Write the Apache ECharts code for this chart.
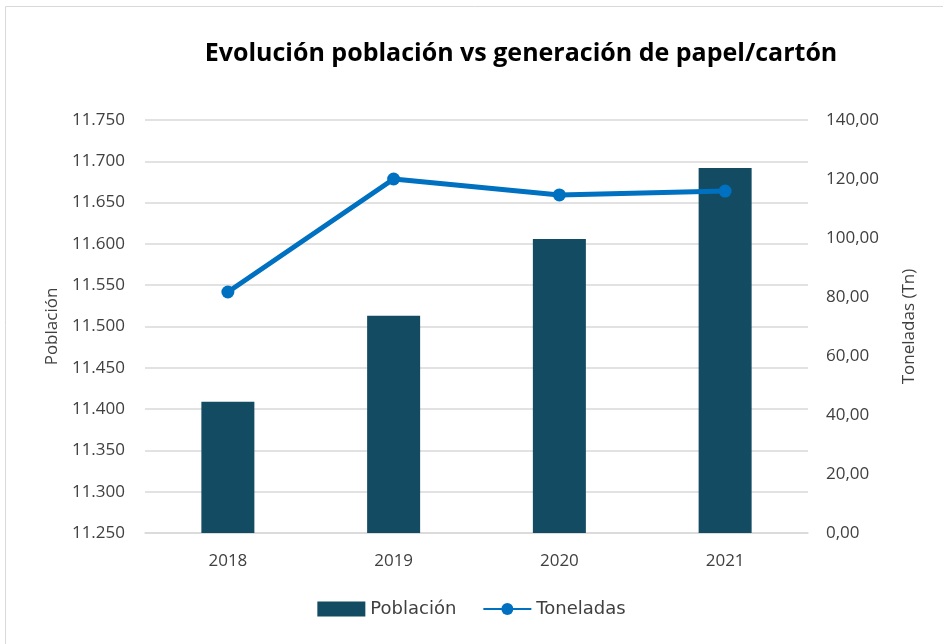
<!DOCTYPE html>
<html>
<head>
<meta charset="utf-8">
<script src="https://cdn.jsdelivr.net/npm/echarts@6/dist/echarts.min.js"></script>
<style>
html,body{margin:0;padding:0;background:#fff;}
#main{width:943px;height:644px;}
</style>
</head>
<body>
<div id="main"></div>
<script>
var years = ['2018', '2019', '2020', '2021'];
var poblacion = [11409, 11513, 11606, 11692];
var toneladas = [81.7, 120.0, 114.6, 115.9];

var fmtMiles = function (v) {
    return (v / 1000).toFixed(3);
};
var fmtTn = function (v) {
    return v.toFixed(2).replace('.', ',');
};

var option = {
    backgroundColor: '#fff',
    textStyle: { fontFamily: 'Open Sans' },
    title: {
        text: 'Evolución población vs generación de papel/cartón',
        left: 516,
        textAlign: 'center',
        top: 36,
        textStyle: { fontSize: 25, fontWeight: 'bold', color: '#000', fontFamily: 'Open Sans' }
    },
    graphic: [{
        type: 'rect',
        shape: { x: 5.5, y: 6.5, width: 960, height: 660 },
        style: { fill: 'none', stroke: '#d9d9d9', lineWidth: 1 },
        silent: true
    }],
    legend: {
        bottom: 21,
        left: 'center',
        itemGap: 26,
        itemWidth: 48,
        itemHeight: 15,
        textStyle: { fontSize: 18, color: '#404040', fontFamily: 'DejaVu Sans' },
        data: [
            { name: 'Población', icon: 'rect' },
            { name: 'Toneladas' }
        ]
    },
    grid: { left: 145, right: 135, top: 120, bottom: 111 },
    xAxis: {
        type: 'category',
        data: years,
        axisTick: { show: false },
        axisLine: { lineStyle: { color: '#d9d9d9', width: 1.5 } },
        axisLabel: { fontSize: 17, color: '#404040', margin: 20 }
    },
    yAxis: [{
        type: 'value',
        name: 'Población',
        nameLocation: 'middle',
        nameGap: 74,
        nameTextStyle: { fontSize: 17, color: '#404040' },
        min: 11250,
        max: 11750,
        interval: 50,
        axisLabel: { fontSize: 17, color: '#404040', margin: 20, formatter: fmtMiles },
        splitLine: { lineStyle: { color: '#d9d9d9', width: 1.5 } }
    }, {
        type: 'value',
        name: 'Toneladas (Tn)',
        nameLocation: 'middle',
        nameGap: 93,
        nameTextStyle: { fontSize: 17, color: '#404040' },
        min: 0,
        max: 140,
        interval: 20,
        axisLabel: { fontSize: 17, color: '#404040', margin: 18, formatter: fmtTn },
        splitLine: { show: false }
    }],
    series: [{
        name: 'Población',
        type: 'bar',
        yAxisIndex: 0,
        barWidth: 53,
        itemStyle: { color: '#134B63' },
        data: poblacion
    }, {
        name: 'Toneladas',
        type: 'line',
        yAxisIndex: 1,
        symbol: 'circle',
        symbolSize: 13,
        lineStyle: { color: '#0070C0', width: 5 },
        itemStyle: { color: '#0070C0' },
        data: toneladas
    }]
};

echarts.init(document.getElementById('main')).setOption(option);
</script>
</body>
</html>
